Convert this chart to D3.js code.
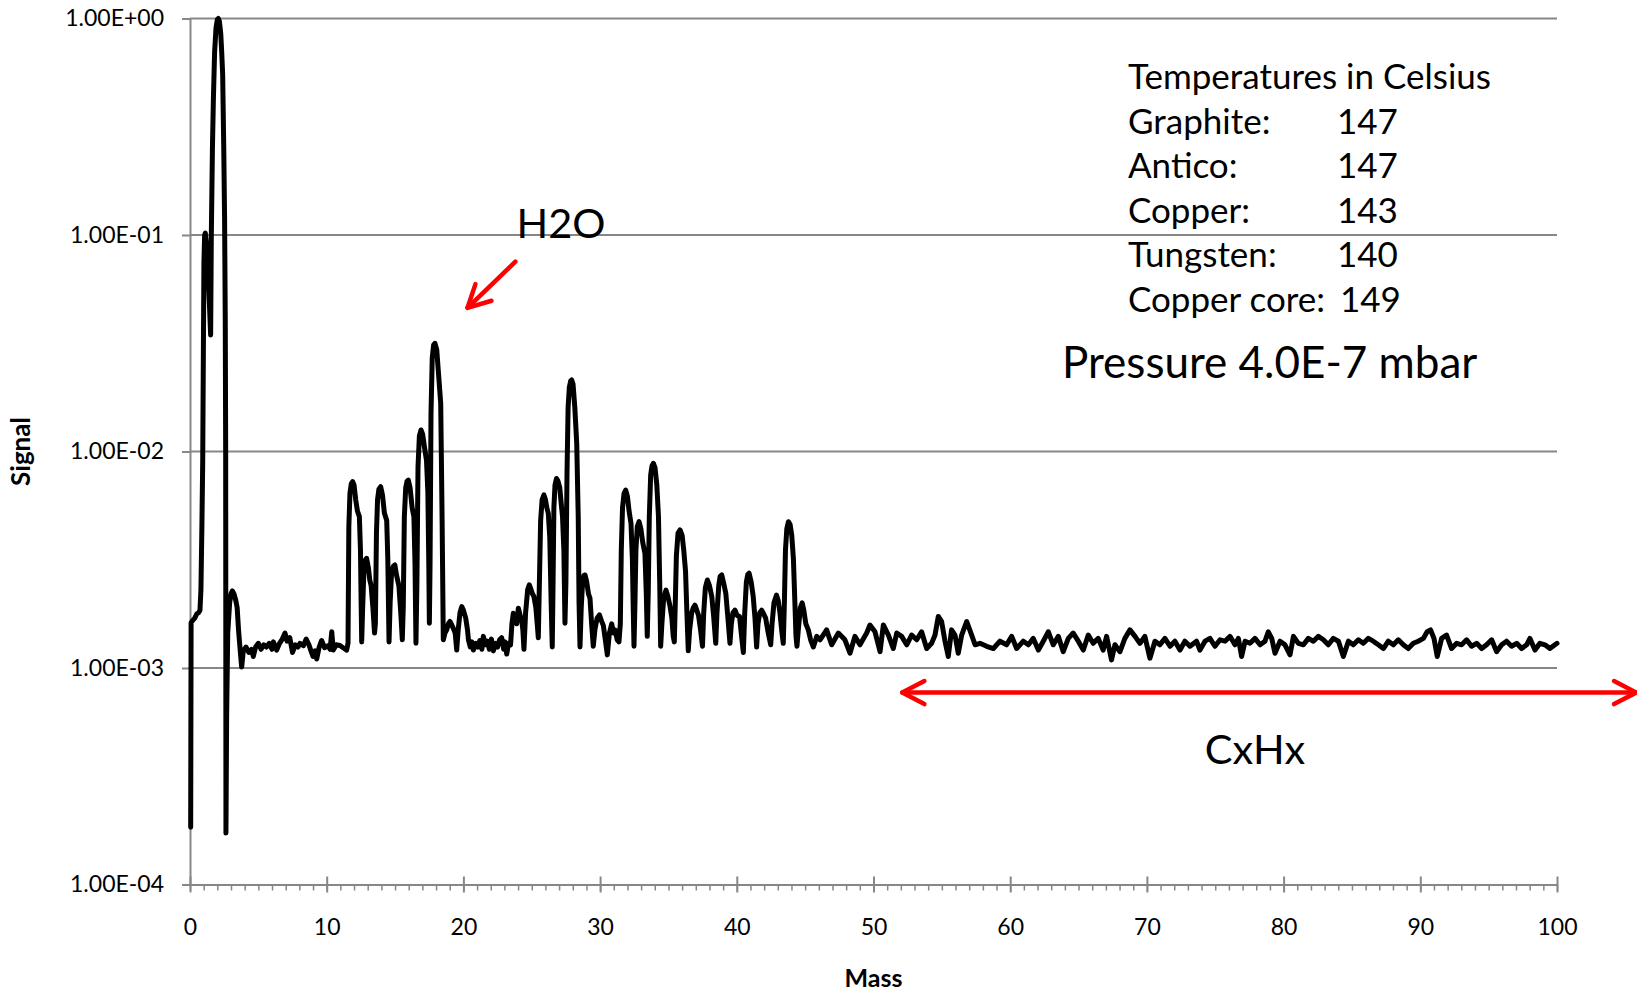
<!DOCTYPE html>
<html>
<head>
<meta charset="utf-8">
<script src="https://cdn.jsdelivr.net/npm/d3@7"></script>
<style>
  body { margin: 0; background: #fff; }
  svg { font-family: Lato, "Open Sans", sans-serif; }
</style>
</head>
<body>
<svg id="chart" width="1637" height="991"></svg>
<script>
// Mass spectrum in four stretches
// 0 - 11.5 : hydrogen peaks and low baseline
const massA = [0.05, 0.08, 0.2, 0.35, 0.5, 0.62, 0.73, 0.8, 0.87, 0.93, 0.98, 1.02, 1.07, 1.12, 1.2, 1.3, 1.42, 1.51,
  1.56, 1.64, 1.71, 1.8, 1.9, 2.0, 2.07, 2.15, 2.25, 2.32, 2.39, 2.47, 2.53, 2.58, 2.61, 2.63, 2.68, 2.76, 2.9, 3.0,
  3.1, 3.22, 3.35, 3.45, 3.55, 3.63, 3.7, 3.78, 3.9, 4.1, 4.3, 4.5, 4.63, 4.8, 5.0, 5.2, 5.4, 5.6, 5.8, 6.0, 6.1,
  6.34, 6.55, 6.75, 6.95, 7.1, 7.3, 7.5, 7.7, 7.9, 8.05, 8.3, 8.5, 8.7, 8.85, 9.0, 9.15, 9.27, 9.45, 9.63, 9.85,
  10.1, 10.25, 10.37, 10.48, 10.7, 10.97, 11.2, 11.46];
const signalA = [1.84e-4, 1.62e-3, 1.66e-3, 1.7e-3, 1.78e-3, 1.8e-3, 1.85e-3, 2.3e-3, 4.5e-3, 9e-3, 0.03, 0.075, 0.1, 0.102, 0.092, 0.072, 0.048, 0.0345,
  0.1, 0.25, 0.42, 0.7, 0.9, 0.99, 1.0, 0.97, 0.85, 0.7, 0.55, 0.25, 0.12, 0.04, 0.01, 1.73e-4, 6e-4, 1.45e-3, 2.0e-3, 2.2e-3,
  2.27e-3, 2.2e-3, 2.05e-3, 1.9e-3, 1.5e-3, 1.3e-3, 1.15e-3, 1.01e-3, 1.2e-3, 1.25e-3, 1.18e-3, 1.22e-3, 1.13e-3, 1.25e-3, 1.3e-3, 1.22e-3, 1.28e-3, 1.25e-3, 1.3e-3, 1.22e-3, 1.32e-3,
  1.21e-3, 1.3e-3, 1.36e-3, 1.45e-3, 1.33e-3, 1.38e-3, 1.18e-3, 1.28e-3, 1.25e-3, 1.3e-3, 1.27e-3, 1.36e-3, 1.28e-3, 1.2e-3, 1.13e-3, 1.2e-3, 1.1e-3, 1.25e-3, 1.34e-3, 1.24e-3,
  1.27e-3, 1.22e-3, 1.47e-3, 1.21e-3, 1.28e-3, 1.27e-3, 1.24e-3, 1.21e-3];

// 11.5 - 27.5 : CH, NH and water groups
const massB = [11.56, 11.62, 11.7, 11.8, 11.9, 12.0, 12.12, 12.25, 12.39, 12.47, 12.52, 12.56, 12.62, 12.72, 12.82, 12.92,
  13.05, 13.15, 13.25, 13.38, 13.5, 13.56, 13.64, 13.72, 13.82, 13.95, 14.08, 14.22, 14.39, 14.47, 14.56, 14.64, 14.75,
  14.88, 14.99, 15.1, 15.28, 15.42, 15.53, 15.6, 15.68, 15.78, 15.88, 15.97, 16.1, 16.25, 16.38, 16.46, 16.53, 16.6,
  16.68, 16.78, 16.9, 17.02, 17.15, 17.3, 17.4, 17.47, 17.51, 17.56, 17.63, 17.72, 17.82, 17.92, 18.05, 18.2, 18.34,
  18.44, 18.53, 18.65, 18.78, 18.9, 19.02, 19.15, 19.27, 19.4, 19.51, 19.62, 19.75, 19.88, 20.0, 20.17, 20.3, 20.37,
  20.5, 20.62, 20.73, 20.9, 21.05, 21.2, 21.35, 21.46, 21.6, 21.75, 21.9, 22.05, 22.19, 22.35, 22.5, 22.65, 22.8,
  22.95, 23.05, 23.17, 23.3, 23.45, 23.55, 23.65, 23.8, 23.9, 24.02, 24.15, 24.26, 24.35, 24.43, 24.55, 24.7, 24.82,
  24.95, 25.05, 25.16, 25.3, 25.4, 25.48, 25.56, 25.65, 25.76, 25.89, 26.0, 26.1, 26.21, 26.32, 26.42, 26.5, 26.56,
  26.62, 26.7, 26.81, 26.92, 27.05, 27.15, 27.25, 27.35, 27.43];
const signalB = [1.3e-3, 4.5e-3, 6.4e-3, 7.1e-3, 7.26e-3, 7.0e-3, 6.0e-3, 5.3e-3, 5.0e-3, 3.5e-3, 2.0e-3, 1.32e-3, 1.8e-3, 2.8e-3, 3.15e-3, 3.21e-3,
  2.9e-3, 2.55e-3, 2.4e-3, 1.9e-3, 1.45e-3, 1.6e-3, 4.2e-3, 6.0e-3, 6.7e-3, 6.88e-3, 6.3e-3, 5.2e-3, 4.8e-3, 3.2e-3, 1.32e-3, 2.0e-3, 2.8e-3,
  2.95e-3, 2.99e-3, 2.7e-3, 2.4e-3, 1.8e-3, 1.35e-3, 1.9e-3, 5.0e-3, 6.8e-3, 7.3e-3, 7.38e-3, 6.8e-3, 5.5e-3, 5.0e-3, 3.0e-3, 1.3e-3, 2.5e-3,
  8.5e-3, 0.0118, 0.01257, 0.012, 0.0105, 9.1e-3, 6.5e-3, 3.0e-3, 1.61e-3, 3.0e-3, 0.015, 0.027, 0.031, 0.0316, 0.0295, 0.022, 0.0167,
  5.0e-3, 1.35e-3, 1.45e-3, 1.5e-3, 1.6e-3, 1.64e-3, 1.58e-3, 1.52e-3, 1.45e-3, 1.21e-3, 1.5e-3, 1.8e-3, 1.92e-3, 1.85e-3, 1.7e-3, 1.5e-3, 1.35e-3,
  1.25e-3, 1.32e-3, 1.21e-3, 1.3e-3, 1.25e-3, 1.34e-3, 1.22e-3, 1.4e-3, 1.28e-3, 1.33e-3, 1.22e-3, 1.36e-3, 1.2e-3, 1.3e-3, 1.25e-3, 1.35e-3, 1.38e-3,
  1.22e-3, 1.32e-3, 1.16e-3, 1.3e-3, 1.28e-3, 1.6e-3, 1.79e-3, 1.7e-3, 1.6e-3, 1.89e-3, 1.75e-3, 1.67e-3, 1.5e-3, 1.22e-3, 1.8e-3, 2.3e-3, 2.42e-3,
  2.3e-3, 2.2e-3, 2.14e-3, 1.9e-3, 1.6e-3, 1.38e-3, 2.5e-3, 4.8e-3, 6.0e-3, 6.3e-3, 6.0e-3, 5.5e-3, 5.18e-3, 4.0e-3, 2.0e-3, 1.25e-3, 2.5e-3,
  5.5e-3, 7.0e-3, 7.5e-3, 7.3e-3, 6.8e-3, 5.8e-3, 5.0e-3, 3.5e-3, 1.61e-3];

// 27.5 - 46 : N2/CO, O2, Ar, CO2 region
const massC = [27.5, 27.58, 27.66, 27.75, 27.85, 27.92, 28.02, 28.15, 28.29, 28.4, 28.46, 28.53, 28.62, 28.72, 28.82, 28.9,
  29.02, 29.15, 29.26, 29.38, 29.5, 29.62, 29.78, 29.95, 30.1, 30.24, 30.38, 30.53, 30.68, 30.85, 30.98, 31.1, 31.25,
  31.38, 31.48, 31.55, 31.64, 31.75, 31.87, 32.0, 32.12, 32.26, 32.36, 32.43, 32.48, 32.55, 32.62, 32.72, 32.85, 32.98,
  33.12, 33.28, 33.38, 33.45, 33.52, 33.6, 33.7, 33.8, 33.9, 34.02, 34.15, 34.27, 34.36, 34.43, 34.52, 34.65, 34.82,
  34.95, 35.1, 35.25, 35.35, 35.43, 35.5, 35.58, 35.7, 35.85, 36.0, 36.12, 36.25, 36.35, 36.45, 36.55, 36.7, 36.82,
  36.94, 37.07, 37.2, 37.35, 37.49, 37.58, 37.7, 37.85, 38.0, 38.17, 38.3, 38.46, 38.55, 38.68, 38.78, 38.9, 39.05,
  39.2, 39.35, 39.5, 39.6, 39.72, 39.87, 40.02, 40.2, 40.35, 40.48, 40.58, 40.7, 40.8, 40.9, 41.05, 41.2, 41.33, 41.45,
  41.55, 41.68, 41.82, 41.96, 42.11, 42.3, 42.48, 42.58, 42.72, 42.9, 43.03, 43.16, 43.28, 43.4, 43.48, 43.56, 43.66,
  43.78, 43.9, 44.02, 44.14, 44.25, 44.33, 44.4, 44.5, 44.65, 44.78, 44.9, 45.05, 45.23, 45.4, 45.6, 45.85];
const signalC = [2.5e-3, 8e-3, 0.016, 0.0198, 0.0212, 0.0214, 0.0205, 0.016, 0.0109, 5.0e-3, 2.0e-3, 1.25e-3, 1.9e-3, 2.5e-3, 2.68e-3, 2.69e-3,
  2.5e-3, 2.2e-3, 2.1e-3, 1.6e-3, 1.26e-3, 1.5e-3, 1.7e-3, 1.76e-3, 1.65e-3, 1.57e-3, 1.35e-3, 1.15e-3, 1.45e-3, 1.6e-3, 1.45e-3, 1.5e-3, 1.35e-3,
  1.32e-3, 1.6e-3, 3.5e-3, 5.5e-3, 6.4e-3, 6.64e-3, 6.2e-3, 5.3e-3, 4.66e-3, 3.2e-3, 1.8e-3, 1.26e-3, 2.0e-3, 3.5e-3, 4.5e-3, 4.74e-3, 4.4e-3,
  3.8e-3, 3.38e-3, 2.2e-3, 1.4e-3, 2.2e-3, 5.0e-3, 7.8e-3, 8.6e-3, 8.82e-3, 8.4e-3, 7.0e-3, 5.0e-3, 2.5e-3, 1.26e-3, 1.6e-3, 2.1e-3, 2.29e-3,
  2.15e-3, 1.95e-3, 1.7e-3, 1.4e-3, 1.32e-3, 2.0e-3, 3.3e-3, 4.2e-3, 4.34e-3, 4.1e-3, 3.5e-3, 2.8e-3, 1.8e-3, 1.2e-3, 1.5e-3, 1.8e-3, 1.9e-3,
  1.95e-3, 1.85e-3, 1.75e-3, 1.5e-3, 1.26e-3, 1.8e-3, 2.35e-3, 2.55e-3, 2.4e-3, 2.14e-3, 1.75e-3, 1.3e-3, 1.8e-3, 2.4e-3, 2.65e-3, 2.69e-3, 2.45e-3,
  2.2e-3, 1.7e-3, 1.3e-3, 1.6e-3, 1.8e-3, 1.85e-3, 1.75e-3, 1.73e-3, 1.4e-3, 1.18e-3, 1.8e-3, 2.5e-3, 2.7e-3, 2.74e-3, 2.5e-3, 2.14e-3, 1.7e-3, 1.25e-3,
  1.6e-3, 1.8e-3, 1.85e-3, 1.78e-3, 1.7e-3, 1.45e-3, 1.28e-3, 1.6e-3, 2.0e-3, 2.17e-3, 2.05e-3, 1.79e-3, 1.5e-3, 1.3e-3, 2.0e-3, 3.5e-3, 4.4e-3,
  4.74e-3, 4.6e-3, 4.1e-3, 3.2e-3, 2.0e-3, 1.4e-3, 1.26e-3, 1.5e-3, 1.9e-3, 2.0e-3, 1.85e-3, 1.6e-3, 1.5e-3, 1.35e-3, 1.25e-3, 1.4e-3];

// 46 - 100 : hydrocarbon tail, mostly noise
const massD = [46.09, 46.57, 46.94, 47.43, 47.91, 48.28, 48.64, 49.01, 49.5, 49.74, 50.11, 50.48, 50.72, 51.09, 51.45, 51.7,
  52.06, 52.43, 52.79, 53.16, 53.52, 53.89, 54.25, 54.5, 54.74, 54.98, 55.23, 55.47, 55.71, 55.96, 56.2, 56.45, 56.82,
  57.18, 57.43, 57.79, 58.28, 58.77, 59.25, 59.74, 60.11, 60.47, 60.96, 61.33, 61.69, 62.06, 62.42, 62.79, 63.15, 63.52,
  63.88, 64.25, 64.61, 64.98, 65.35, 65.71, 66.07, 66.44, 66.8, 67.05, 67.41, 67.66, 68.03, 68.39, 68.76, 69.13, 69.49,
  69.85, 70.22, 70.59, 70.95, 71.32, 71.69, 72.05, 72.42, 72.78, 73.15, 73.63, 73.88, 74.25, 74.61, 74.98, 75.35, 75.71,
  76.08, 76.44, 76.69, 76.93, 77.18, 77.54, 77.91, 78.28, 78.64, 78.88, 79.13, 79.37, 79.74, 80.1, 80.47, 80.72, 81.08,
  81.45, 81.81, 82.18, 82.54, 82.91, 83.27, 83.64, 84.01, 84.37, 84.74, 85.1, 85.47, 85.83, 86.2, 86.56, 86.93, 87.3,
  87.66, 88.03, 88.39, 88.76, 89.12, 89.49, 89.85, 90.22, 90.5, 90.75, 91.0, 91.24, 91.56, 91.92, 92.29, 92.66, 93.02,
  93.39, 93.75, 94.12, 94.49, 94.85, 95.22, 95.58, 95.95, 96.31, 96.68, 97.05, 97.41, 97.78, 98.02, 98.39, 98.75, 99.12,
  99.48, 99.85, 100.0];
const signalD = [1.35e-3, 1.50e-3, 1.28e-3, 1.45e-3, 1.35e-3, 1.17e-3, 1.40e-3, 1.28e-3, 1.45e-3, 1.58e-3, 1.47e-3, 1.19e-3, 1.58e-3, 1.42e-3, 1.23e-3, 1.45e-3,
  1.40e-3, 1.28e-3, 1.42e-3, 1.35e-3, 1.47e-3, 1.23e-3, 1.30e-3, 1.42e-3, 1.73e-3, 1.64e-3, 1.33e-3, 1.13e-3, 1.50e-3, 1.42e-3, 1.17e-3, 1.42e-3, 1.64e-3,
  1.42e-3, 1.28e-3, 1.30e-3, 1.26e-3, 1.23e-3, 1.33e-3, 1.28e-3, 1.40e-3, 1.23e-3, 1.33e-3, 1.28e-3, 1.37e-3, 1.21e-3, 1.33e-3, 1.47e-3, 1.28e-3, 1.40e-3,
  1.19e-3, 1.37e-3, 1.45e-3, 1.33e-3, 1.21e-3, 1.42e-3, 1.30e-3, 1.37e-3, 1.21e-3, 1.40e-3, 1.09e-3, 1.28e-3, 1.19e-3, 1.37e-3, 1.50e-3, 1.40e-3, 1.30e-3,
  1.40e-3, 1.11e-3, 1.33e-3, 1.28e-3, 1.37e-3, 1.26e-3, 1.33e-3, 1.21e-3, 1.33e-3, 1.26e-3, 1.33e-3, 1.21e-3, 1.33e-3, 1.37e-3, 1.26e-3, 1.35e-3, 1.33e-3,
  1.40e-3, 1.28e-3, 1.37e-3, 1.13e-3, 1.33e-3, 1.30e-3, 1.37e-3, 1.28e-3, 1.33e-3, 1.47e-3, 1.37e-3, 1.17e-3, 1.33e-3, 1.28e-3, 1.15e-3, 1.40e-3, 1.30e-3,
  1.28e-3, 1.37e-3, 1.33e-3, 1.40e-3, 1.35e-3, 1.28e-3, 1.37e-3, 1.33e-3, 1.13e-3, 1.33e-3, 1.28e-3, 1.35e-3, 1.30e-3, 1.37e-3, 1.33e-3, 1.28e-3, 1.23e-3,
  1.33e-3, 1.28e-3, 1.35e-3, 1.28e-3, 1.23e-3, 1.30e-3, 1.33e-3, 1.37e-3, 1.47e-3, 1.50e-3, 1.37e-3, 1.13e-3, 1.37e-3, 1.42e-3, 1.23e-3, 1.30e-3, 1.28e-3,
  1.35e-3, 1.26e-3, 1.30e-3, 1.23e-3, 1.28e-3, 1.35e-3, 1.19e-3, 1.28e-3, 1.33e-3, 1.26e-3, 1.30e-3, 1.23e-3, 1.28e-3, 1.37e-3, 1.21e-3, 1.30e-3, 1.28e-3,
  1.23e-3, 1.28e-3, 1.30e-3];

const xTickValues = [0, 10, 20, 30, 40, 50, 60, 70, 80, 90, 100];
const yTickValues = [1e-4, 1e-3, 1e-2, 1e-1, 1];
const yTickLabels = ["1.00E-04", "1.00E-03", "1.00E-02", "1.00E-01", "1.00E+00"];

const tempTitle = "Temperatures in Celsius";
const tempNames = ["Graphite:", "Antico:", "Copper:", "Tungsten:", "Copper core:"];
const tempValues = [147, 147, 143, 140, 149];
const pressureNote = "Pressure 4.0E-7 mbar";

// annotation anchors in data units
const waterArrow = {from: [23.8, 0.0753], to: [20.3, 0.0461]};
const cxhxArrow = {from: [52.1, 7.7e-4], to: [105.8, 7.7e-4]};

const svg = d3.select("#chart");
const W = 1637, H = 991;
const margin = {top: 18.5, right: 80, bottom: 106.5, left: 190};
const gridColor = "#878787";

const x = d3.scaleLinear().domain([0, 100]).range([margin.left, W - margin.right]);
const y = d3.scaleLog().domain([1e-4, 1]).range([H - margin.bottom, margin.top]);

const data = []
  .concat(massA.map((m, i) => [m, signalA[i]]))
  .concat(massB.map((m, i) => [m, signalB[i]]))
  .concat(massC.map((m, i) => [m, signalC[i]]))
  .concat(massD.map((m, i) => [m, signalD[i]]));

// Horizontal gridlines (decades)
svg.append("g")
  .selectAll("line")
  .data(yTickValues.slice(1))
  .join("line")
  .attr("x1", margin.left)
  .attr("x2", W - margin.right)
  .attr("y1", d => y(d))
  .attr("y2", d => y(d))
  .attr("stroke", gridColor)
  .attr("stroke-width", 2);

// Y axis
const yAxis = svg.append("g")
  .attr("transform", `translate(${margin.left},0)`)
  .call(d3.axisLeft(y)
    .tickValues(yTickValues)
    .tickFormat((d, i) => yTickLabels[i])
    .tickSizeInner(8)
    .tickSizeOuter(0)
    .tickPadding(18));
yAxis.select(".domain").attr("stroke", gridColor).attr("stroke-width", 2);
yAxis.selectAll(".tick line").attr("stroke", gridColor).attr("stroke-width", 2);
yAxis.selectAll(".tick text")
  .attr("fill", "#000")
  .style("font-size", "23px")
  .style("font-family", "Lato, sans-serif");

// X axis: minor ticks every unit
const xMinor = svg.append("g")
  .attr("transform", `translate(0,${H - margin.bottom})`)
  .call(d3.axisBottom(x)
    .tickValues(d3.range(0, 101, 1))
    .tickFormat("")
    .tickSizeInner(6)
    .tickSizeOuter(0));
xMinor.select(".domain").attr("stroke", gridColor).attr("stroke-width", 2);
xMinor.selectAll(".tick line").attr("stroke", gridColor).attr("stroke-width", 1.5);

// X axis: major ticks crossing the axis
const xMajor = svg.append("g")
  .attr("transform", `translate(0,${H - margin.bottom})`)
  .call(d3.axisBottom(x)
    .tickValues(xTickValues)
    .tickSizeInner(8)
    .tickSizeOuter(0));
xMajor.select(".domain").remove();
xMajor.selectAll(".tick line")
  .attr("y1", -8)
  .attr("y2", 8)
  .attr("stroke", gridColor)
  .attr("stroke-width", 2);
xMajor.selectAll(".tick text")
  .attr("y", 50.5)
  .attr("dy", 0)
  .attr("fill", "#000")
  .style("font-size", "23px")
  .style("font-family", "Lato, sans-serif");

// Axis titles
svg.append("text")
  .attr("transform", `translate(30,${(margin.top + H - margin.bottom) / 2}) rotate(-90)`)
  .attr("text-anchor", "middle")
  .style("font-weight", "bold")
  .style("font-size", "26px")
  .text("Signal");

svg.append("text")
  .attr("x", (margin.left + W - margin.right) / 2)
  .attr("y", 987)
  .attr("text-anchor", "middle")
  .style("font-weight", "bold")
  .style("font-size", "25px")
  .text("Mass");

// Spectrum
const line = d3.line()
  .x(d => x(d[0]))
  .y(d => y(d[1]));

svg.append("path")
  .datum(data)
  .attr("d", line)
  .attr("fill", "none")
  .attr("stroke", "#000")
  .attr("stroke-width", 5)
  .attr("stroke-linejoin", "round")
  .attr("stroke-linecap", "round");

// Red annotation arrows
function chevron(tip, back) {
  const ang = Math.atan2(back[1] - tip[1], back[0] - tip[0]);
  const len = 25, spread = 0.48;
  const a = [tip[0] + len * Math.cos(ang + spread), tip[1] + len * Math.sin(ang + spread)];
  const b = [tip[0] + len * Math.cos(ang - spread), tip[1] + len * Math.sin(ang - spread)];
  return `M${a[0]},${a[1]}L${tip[0]},${tip[1]}L${b[0]},${b[1]}`;
}

const arrows = svg.append("g")
  .attr("fill", "none")
  .attr("stroke", "#ff0000")
  .attr("stroke-width", 4.5)
  .attr("stroke-linecap", "round")
  .attr("stroke-linejoin", "round");

const w0 = [x(waterArrow.from[0]), y(waterArrow.from[1])];
const w1 = [x(waterArrow.to[0]), y(waterArrow.to[1])];
arrows.append("path").attr("d", `M${w0[0]},${w0[1]}L${w1[0]},${w1[1]}`);
arrows.append("path").attr("d", chevron(w1, w0));

const c0 = [x(cxhxArrow.from[0]), y(cxhxArrow.from[1])];
const c1 = [x(cxhxArrow.to[0]), y(cxhxArrow.to[1])];
arrows.append("path").attr("d", `M${c0[0]},${c0[1]}L${c1[0]},${c1[1]}`);
arrows.append("path").attr("d", chevron(c0, c1));
arrows.append("path").attr("d", chevron(c1, c0));

// Annotation texts
svg.append("text")
  .attr("x", 561)
  .attr("y", 238)
  .attr("text-anchor", "middle")
  .style("font-size", "41.5px")
  .text("H2O");

svg.append("text")
  .attr("x", 1255)
  .attr("y", 764)
  .attr("text-anchor", "middle")
  .style("font-size", "41.5px")
  .text("CxHx");

const temps = svg.append("g").style("font-size", "35px");
temps.append("text")
  .attr("x", 1128)
  .attr("y", 89.3)
  .text(tempTitle);
temps.selectAll("text.name")
  .data(tempNames)
  .join("text")
  .attr("class", "name")
  .attr("x", 1128)
  .attr("y", (d, i) => 133.8 + i * 44.5)
  .text(d => d);
temps.selectAll("text.val")
  .data(tempValues)
  .join("text")
  .attr("class", "val")
  .attr("x", (d, i) => i === tempValues.length - 1 ? 1340 : 1337)
  .attr("y", (d, i) => 133.8 + i * 44.5)
  .text(d => d);

svg.append("text")
  .attr("x", 1062)
  .attr("y", 378.3)
  .style("font-size", "44px")
  .text(pressureNote);
</script>
</body>
</html>
